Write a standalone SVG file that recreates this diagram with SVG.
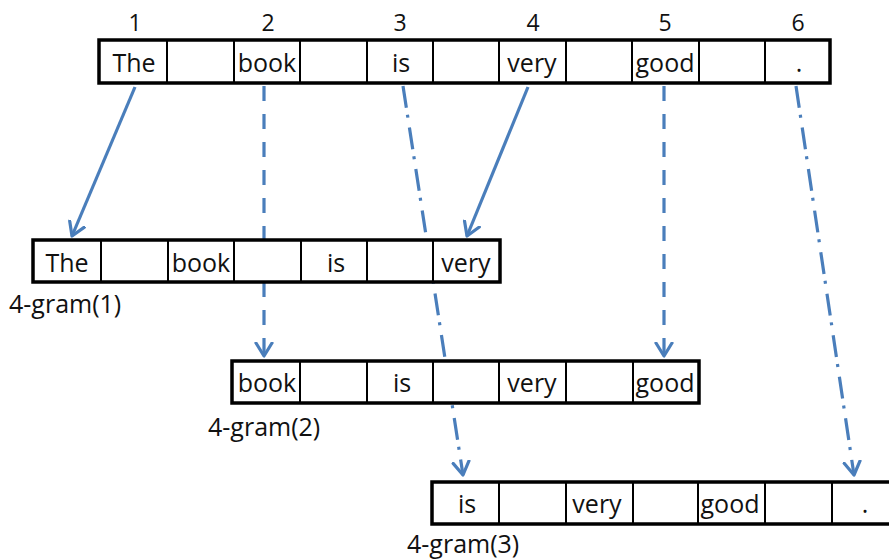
<svg xmlns="http://www.w3.org/2000/svg" width="889" height="560" viewBox="0 0 889 560">
  <style>
    .frame { fill: #fff; stroke: #000; stroke-width: 3.5; }
    .div { stroke: #000; stroke-width: 2; }
    .word { font-family: "Open Sans", "Noto Sans", sans-serif; font-size: 25px; fill: #111; text-anchor: middle; }
    .num { font-family: "Open Sans", "Noto Sans", sans-serif; font-size: 23px; fill: #111; text-anchor: middle; }
    .lbl { font-family: "Open Sans", "Noto Sans", sans-serif; font-size: 25px; fill: #111; }
    .link { fill: none; stroke: #4a7ebb; stroke-width: 3.2; marker-end: url(#vee); }
    .dash { stroke-dasharray: 15 13; }
    .dashdot { stroke-dasharray: 22 7 3 10; }
  </style>
  <defs>
    <marker id="vee" viewBox="0 0 16 20" refX="14" refY="10" markerWidth="16" markerHeight="20" markerUnits="userSpaceOnUse" orient="auto">
      <path d="M1,2 L14,10 L1,18" fill="none" stroke="#4a7ebb" stroke-width="3.2" stroke-linecap="round" stroke-linejoin="round"/>
    </marker>
  </defs>

  <!-- connectors, drawn first so the white cells cover them -->
  <g id="connectors">
    <line class="link" x1="135" y1="87" x2="72" y2="236"/>
    <line class="link dash" x1="264" y1="86" x2="264" y2="356"/>
    <line class="link dashdot" x1="403" y1="86" x2="463" y2="475"/>
    <line class="link" x1="528" y1="87" x2="467" y2="236"/>
    <line class="link dash" x1="664" y1="86" x2="664" y2="356"/>
    <line class="link dashdot" x1="796" y1="86" x2="854" y2="475"/>
  </g>

  <!-- sentence with position numbers -->
  <g id="sentence">
    <text class="num" x="135" y="31">1</text>
    <text class="num" x="268" y="31">2</text>
    <text class="num" x="400" y="31">3</text>
    <text class="num" x="533" y="31">4</text>
    <text class="num" x="665" y="31">5</text>
    <text class="num" x="798" y="31">6</text>
    <rect class="frame" x="99" y="40" width="731" height="43"/>
    <line class="div" x1="167" y1="40" x2="167" y2="83"/>
    <line class="div" x1="234" y1="40" x2="234" y2="83"/>
    <line class="div" x1="300" y1="40" x2="300" y2="83"/>
    <line class="div" x1="367" y1="40" x2="367" y2="83"/>
    <line class="div" x1="433" y1="40" x2="433" y2="83"/>
    <line class="div" x1="499" y1="40" x2="499" y2="83"/>
    <line class="div" x1="566" y1="40" x2="566" y2="83"/>
    <line class="div" x1="632" y1="40" x2="632" y2="83"/>
    <line class="div" x1="699" y1="40" x2="699" y2="83"/>
    <line class="div" x1="765" y1="40" x2="765" y2="83"/>
    <text class="word" x="134" y="72">The</text>
    <text class="word" x="267" y="72">book</text>
    <text class="word" x="401" y="72">is</text>
    <text class="word" x="532" y="72">very</text>
    <text class="word" x="665" y="72">good</text>
    <text class="word" x="799" y="72">.</text>
  </g>

  <!-- 4-gram(1) -->
  <g id="gram1">
    <rect class="frame" x="33" y="240" width="467" height="42"/>
    <line class="div" x1="101" y1="240" x2="101" y2="282"/>
    <line class="div" x1="168" y1="240" x2="168" y2="282"/>
    <line class="div" x1="234" y1="240" x2="234" y2="282"/>
    <line class="div" x1="301" y1="240" x2="301" y2="282"/>
    <line class="div" x1="367" y1="240" x2="367" y2="282"/>
    <line class="div" x1="433" y1="240" x2="433" y2="282"/>
    <text class="word" x="67" y="272">The</text>
    <text class="word" x="201" y="272">book</text>
    <text class="word" x="336" y="272">is</text>
    <text class="word" x="466" y="272">very</text>
    <text class="lbl" x="9" y="313">4-gram(1)</text>
  </g>

  <!-- 4-gram(2) -->
  <g id="gram2">
    <rect class="frame" x="232" y="361" width="467" height="42"/>
    <line class="div" x1="300" y1="361" x2="300" y2="403"/>
    <line class="div" x1="367" y1="361" x2="367" y2="403"/>
    <line class="div" x1="433" y1="361" x2="433" y2="403"/>
    <line class="div" x1="499" y1="361" x2="499" y2="403"/>
    <line class="div" x1="566" y1="361" x2="566" y2="403"/>
    <line class="div" x1="633" y1="361" x2="633" y2="403"/>
    <text class="word" x="267" y="392">book</text>
    <text class="word" x="402" y="392">is</text>
    <text class="word" x="532" y="392">very</text>
    <text class="word" x="665" y="392">good</text>
    <text class="lbl" x="208" y="436">4-gram(2)</text>
  </g>

  <!-- 4-gram(3), runs past the right edge -->
  <g id="gram3">
    <rect class="frame" x="432" y="482" width="467" height="42"/>
    <line class="div" x1="499" y1="482" x2="499" y2="524"/>
    <line class="div" x1="566" y1="482" x2="566" y2="524"/>
    <line class="div" x1="633" y1="482" x2="633" y2="524"/>
    <line class="div" x1="698" y1="482" x2="698" y2="524"/>
    <line class="div" x1="765" y1="482" x2="765" y2="524"/>
    <line class="div" x1="832" y1="482" x2="832" y2="524"/>
    <text class="word" x="467" y="513">is</text>
    <text class="word" x="597" y="513">very</text>
    <text class="word" x="730" y="513">good</text>
    <text class="word" x="865" y="513">.</text>
    <text class="lbl" x="407" y="553">4-gram(3)</text>
  </g>
</svg>
